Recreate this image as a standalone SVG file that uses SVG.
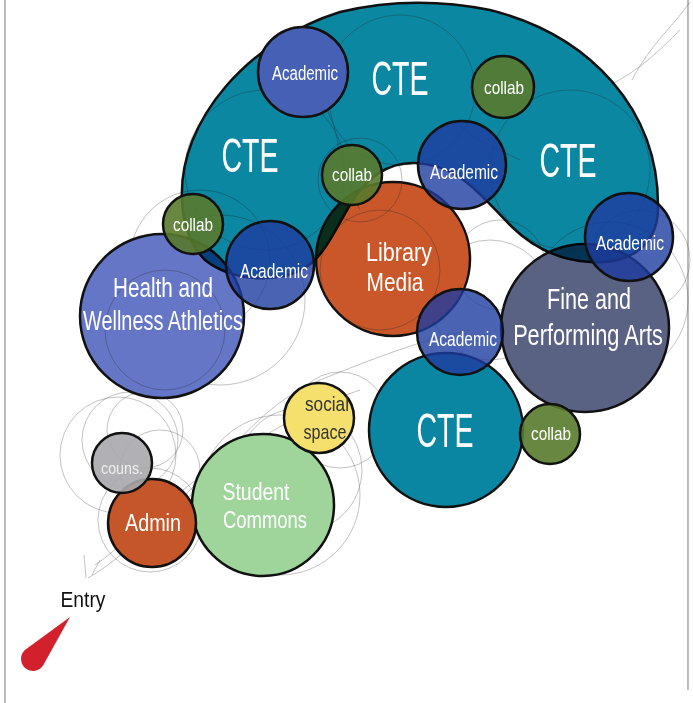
<svg xmlns="http://www.w3.org/2000/svg" width="693" height="703" viewBox="0 0 693 703">
<style>
.n{stroke:#111;stroke-width:2.5}
.t{font-family:"Liberation Sans","Open Sans",sans-serif;fill:#fff;text-anchor:middle}
.acad{fill:#1e3ca0;fill-opacity:0.8}
.collab{fill:#587a2c;fill-opacity:0.9}
.sk{fill:none;stroke:#555;stroke-width:0.8;opacity:0.45}
.skd{fill:none;stroke:#222;stroke-width:0.9;opacity:0.35}
</style>
<rect width="693" height="703" fill="#fff"/>
<line x1="5" y1="0" x2="5" y2="703" stroke="#bbb" stroke-width="2"/>
<line x1="688" y1="0" x2="688" y2="690" stroke="#bbb" stroke-width="2"/>

<g id="sketch-back">
<circle class="sk" cx="130" cy="440" r="48"/>
<circle class="sk" cx="145" cy="430" r="38"/>
<circle class="sk" cx="118" cy="455" r="58"/>
<circle class="sk" cx="160" cy="470" r="40"/>
<circle class="sk" cx="150" cy="520" r="52"/>
<circle class="sk" cx="280" cy="495" r="80"/>
<circle class="sk" cx="300" cy="470" r="62"/>
<circle class="sk" cx="340" cy="420" r="48"/>
<circle class="sk" cx="490" cy="300" r="60"/>
<circle class="sk" cx="500" cy="265" r="45"/>
<circle class="sk" cx="610" cy="300" r="78"/>
<circle class="sk" cx="640" cy="260" r="50"/>
<circle class="sk" cx="200" cy="260" r="70"/>
<circle class="sk" cx="220" cy="300" r="85"/>
<path class="sk" d="M690,2 C670,30 650,45 632,80 M680,30 C660,50 640,70 610,85"/>
<path class="sk" d="M88,578 C120,560 160,520 200,480 C240,440 270,400 320,380 C370,360 420,340 470,330"/>
<path class="sk" d="M95,565 C125,545 165,500 210,470 C250,445 300,410 360,390"/>
<path class="sk" d="M84,555 L86,578 M100,560 L92,575"/>
</g>

<g id="connectors"></g>

<g id="library"><circle class="n" cx="393" cy="259" r="77" fill="#c9572a"/></g>
<g id="fine-arts"><circle class="n" cx="585" cy="328" r="84" fill="#5a6283"/></g>
<g id="health"><circle class="n" cx="162" cy="316" r="82" fill="#6676c6"/></g>

<g id="cte-main">
<path class="n" fill="#0b87a2" style="mix-blend-mode:multiply" d="M182,200 C178,120 250,40 340,12 C390,0 440,0 490,10 C590,35 660,110 658,210 C657,245 630,265 590,262 C555,260 530,245 510,225 C480,195 460,165 415,163 C385,162 365,180 350,205 C335,230 325,255 305,268 C275,285 230,280 205,260 C190,245 183,225 182,200 Z"/>
</g>

<g id="sketch-mid">
<circle class="skd" cx="265" cy="170" r="80"/>
<circle class="skd" cx="400" cy="90" r="75"/>
<circle class="skd" cx="570" cy="170" r="80"/>
<circle class="skd" cx="360" cy="180" r="42"/>
<path class="skd" d="M330,110 C340,150 345,180 360,210 M455,120 C470,140 500,150 520,160"/>
<circle class="skd" cx="380" cy="270" r="60"/>
<circle class="skd" cx="165" cy="330" r="60"/>
</g>

<g id="cte-bottom"><circle class="n" cx="446" cy="430" r="77" fill="#0b86a2"/></g>
<g id="student-commons"><circle class="n" cx="263" cy="505" r="71" fill="#9fd59b"/></g>
<g id="social-space"><circle class="n" cx="319" cy="418" r="35" fill="#f5e06e"/></g>
<g id="admin"><circle class="n" cx="152" cy="523" r="44" fill="#c4562a"/></g>
<g id="couns"><circle class="n" cx="122" cy="463" r="30" fill="#a9a9ad" fill-opacity="0.9"/></g>

<g id="collab-tr"><circle class="n collab" cx="503" cy="87" r="31"/></g>
<g id="collab-center"><circle class="n collab" cx="352" cy="175" r="30"/></g>
<g id="collab-left"><circle class="n collab" cx="193" cy="224" r="30"/></g>
<g id="collab-lower"><circle class="n collab" cx="550" cy="434" r="30"/></g>

<g id="academic-top"><circle class="n" cx="303" cy="72" r="45" fill="#4660b6"/></g>
<g id="academic-cr"><circle class="n acad" cx="462" cy="165" r="44"/></g>
<g id="academic-lb"><circle class="n acad" cx="270" cy="265" r="44"/></g>
<g id="academic-right"><circle class="n acad" cx="629" cy="237" r="44"/></g>
<g id="academic-lower"><circle class="n acad" cx="460" cy="332" r="43"/></g>

<g id="labels">
<text class="t" x="305" y="80" font-size="20" textLength="66" lengthAdjust="spacingAndGlyphs">Academic</text>
<text class="t" x="400" y="95" font-size="49" textLength="57" lengthAdjust="spacingAndGlyphs">CTE</text>
<text class="t" x="504" y="94" font-size="19" textLength="40" lengthAdjust="spacingAndGlyphs">collab</text>
<text class="t" x="250" y="172" font-size="49" textLength="57" lengthAdjust="spacingAndGlyphs">CTE</text>
<text class="t" x="352" y="181" font-size="19" textLength="40" lengthAdjust="spacingAndGlyphs">collab</text>
<text class="t" x="464" y="179" font-size="20" textLength="68" lengthAdjust="spacingAndGlyphs">Academic</text>
<text class="t" x="568" y="177" font-size="49" textLength="57" lengthAdjust="spacingAndGlyphs">CTE</text>
<text class="t" x="193" y="231" font-size="19" textLength="40" lengthAdjust="spacingAndGlyphs">collab</text>
<text class="t" x="274" y="278" font-size="20" textLength="68" lengthAdjust="spacingAndGlyphs">Academic</text>
<text class="t" x="399" y="261" font-size="25" textLength="66" lengthAdjust="spacingAndGlyphs">Library</text>
<text class="t" x="395" y="291" font-size="25" textLength="57" lengthAdjust="spacingAndGlyphs">Media</text>
<text class="t" x="630" y="250" font-size="20" textLength="68" lengthAdjust="spacingAndGlyphs">Academic</text>
<text class="t" x="163" y="297" font-size="27" textLength="100" lengthAdjust="spacingAndGlyphs">Health and</text>
<text class="t" x="163" y="330" font-size="27" textLength="160" lengthAdjust="spacingAndGlyphs">Wellness Athletics</text>
<text class="t" x="589" y="309" font-size="30" textLength="84" lengthAdjust="spacingAndGlyphs">Fine and</text>
<text class="t" transform="translate(588,345) scale(0.72,1)" x="0" y="0" font-size="29" textLength="208" lengthAdjust="spacingAndGlyphs">Performing Arts</text>
<text class="t" x="463" y="346" font-size="20" textLength="68" lengthAdjust="spacingAndGlyphs">Academic</text>
<text class="t" x="445" y="447" font-size="49" textLength="57" lengthAdjust="spacingAndGlyphs">CTE</text>
<text class="t" x="551" y="440" font-size="19" textLength="40" lengthAdjust="spacingAndGlyphs">collab</text>
<text class="t" x="327" y="411" font-size="21" textLength="44" lengthAdjust="spacingAndGlyphs" style="fill:#333">social</text>
<text class="t" x="325" y="439" font-size="21" textLength="43" lengthAdjust="spacingAndGlyphs" style="fill:#333">space</text>
<text class="t" x="122" y="474" font-size="17" textLength="42" lengthAdjust="spacingAndGlyphs" style="fill:#eee">couns.</text>
<text class="t" x="153" y="531" font-size="23" textLength="56" lengthAdjust="spacingAndGlyphs">Admin</text>
<text class="t" x="256" y="500" font-size="23" textLength="67" lengthAdjust="spacingAndGlyphs">Student</text>
<text class="t" x="265" y="528" font-size="23" textLength="84" lengthAdjust="spacingAndGlyphs">Commons</text>
</g>

<g id="entry">
<text class="t" x="83" y="607" font-size="22" textLength="45" lengthAdjust="spacingAndGlyphs" style="fill:#111">Entry</text>
<path d="M70,617 L43.5,664.8 A12,12 0 1 1 25.9,649.3 Z" fill="#d2202c"/>
</g>
</svg>
